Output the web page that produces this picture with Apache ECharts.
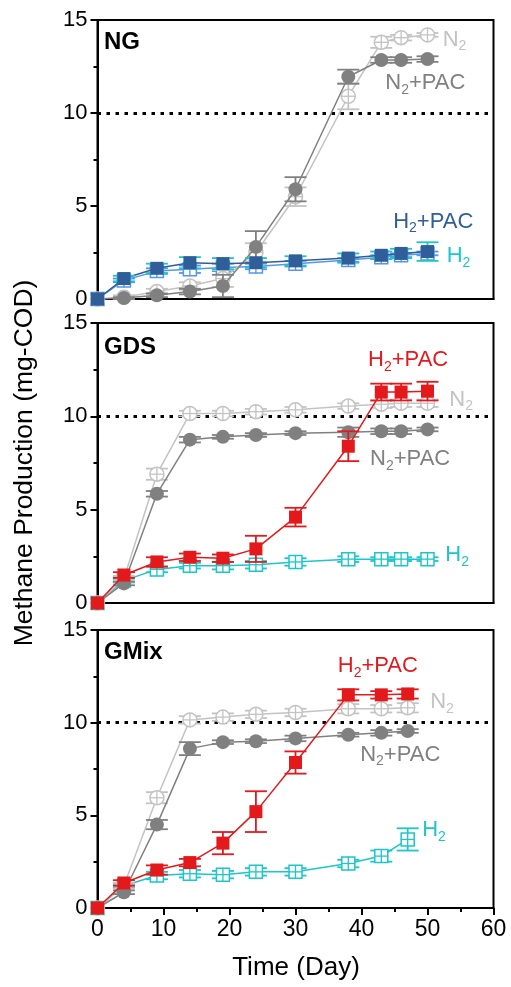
<!DOCTYPE html>
<html>
<head>
<meta charset="utf-8">
<script src="https://cdn.jsdelivr.net/npm/echarts@6/dist/echarts.min.js"></script>
<style>
  html, body { margin: 0; padding: 0; background: #fff; }
  #chart { width: 511px; height: 987px; }
</style>
</head>
<body>
<div id="chart"></div>
<script>
// Sampling days
const daysLong = [0, 4, 9, 14, 19, 24, 30, 38, 43, 46, 50];
const daysMix = [0, 4, 9, 14, 19, 24, 30, 38, 43, 47];

// Axis ranges / ticks
const yTicks = [0, 5, 10, 15];
const xTicks = [0, 10, 20, 30, 40, 50, 60];
const refLevel = 10;

// NG panel (mg-COD) with standard deviations
const ngN2 = [0, 0.1, 0.4, 0.7, 1.1, 2.5, 5.5, 10.9, 13.8, 14.05, 14.2];
const ngN2Err = [0, 0.1, 0.15, 0.2, 0.45, 0.5, 0.5, 0.7, 0.3, 0.15, 0.1];
const ngN2Pac = [0, 0.05, 0.2, 0.4, 0.7, 2.8, 5.9, 11.95, 12.85, 12.85, 12.9];
const ngN2PacErr = [0, 0.05, 0.1, 0.15, 0.6, 0.85, 0.65, 0.38, 0.15, 0.15, 0.15];
const ngH2 = [0, 1.0, 1.5, 1.6, 1.7, 1.75, 1.9, 2.1, 2.25, 2.35, 2.45];
const ngH2Err = [0, 0.1, 0.15, 0.2, 0.2, 0.15, 0.15, 0.1, 0.1, 0.1, 0.1];
const ngH2Pac = [0, 1.1, 1.65, 1.95, 1.9, 1.95, 2.05, 2.2, 2.35, 2.45, 2.55];
const ngH2PacErr = [0, 0.15, 0.25, 0.3, 0.3, 0.25, 0.25, 0.25, 0.2, 0.25, 0.5];

// GDS panel
const gdsN2 = [0, 1.3, 6.9, 10.15, 10.15, 10.25, 10.35, 10.55, 10.65, 10.7, 10.7];
const gdsN2Err = [0, 0.15, 0.3, 0.15, 0.15, 0.15, 0.15, 0.15, 0.2, 0.2, 0.2];
const gdsN2Pac = [0, 1.05, 5.85, 8.75, 8.9, 9.0, 9.1, 9.15, 9.2, 9.2, 9.3];
const gdsN2PacErr = [0, 0.1, 0.15, 0.15, 0.1, 0.1, 0.1, 0.25, 0.15, 0.15, 0.1];
const gdsH2 = [0, 1.2, 1.8, 2.0, 2.0, 2.05, 2.2, 2.35, 2.35, 2.35, 2.35];
const gdsH2Err = [0, 0.1, 0.15, 0.15, 0.2, 0.2, 0.2, 0.15, 0.1, 0.1, 0.1];
const gdsH2Pac = [0, 1.5, 2.2, 2.45, 2.4, 2.9, 4.6, 8.4, 11.3, 11.3, 11.35];
const gdsH2PacErr = [0, 0.15, 0.25, 0.2, 0.2, 0.7, 0.5, 0.8, 0.45, 0.45, 0.5];

// GMix panel
const mixN2 = [0, 1.2, 5.95, 10.15, 10.3, 10.45, 10.55, 10.75, 10.75, 10.8];
const mixN2Err = [0, 0.15, 0.3, 0.2, 0.2, 0.2, 0.2, 0.25, 0.2, 0.25];
const mixN2Pac = [0, 0.85, 4.5, 8.6, 8.95, 9.0, 9.15, 9.35, 9.45, 9.55];
const mixN2PacErr = [0, 0.1, 0.25, 0.35, 0.1, 0.1, 0.15, 0.1, 0.15, 0.1];
const mixH2 = [0, 1.2, 1.75, 1.85, 1.8, 1.95, 1.95, 2.4, 2.8, 3.7];
const mixH2Err = [0, 0.1, 0.2, 0.2, 0.2, 0.2, 0.2, 0.2, 0.3, 0.6];
const mixH2Pac = [0, 1.35, 2.05, 2.45, 3.5, 5.2, 7.85, 11.5, 11.5, 11.55];
const mixH2PacErr = [0, 0.15, 0.25, 0.2, 0.6, 1.1, 0.6, 0.3, 0.2, 0.25];

// Panel names and in-plot series labels: [x, y, main, sub, suffix]
const panelNames = ['NG', 'GDS', 'GMix'];
const ngLabels = [[52.3, 13.95, 'N', '2', ''], [43.6, 11.6, 'N', '2', '+PAC'], [44.8, 4.17, 'H', '2', '+PAC'], [52.9, 2.29, 'H', '2', '']];
const gdsLabels = [[41.0, 13.0, 'H', '2', '+PAC'], [53.3, 10.9, 'N', '2', ''], [41.3, 7.7, 'N', '2', '+PAC'], [52.7, 2.58, 'H', '2', '']];
const mixLabels = [[36.4, 13.06, 'H', '2', '+PAC'], [50.4, 11.13, 'N', '2', ''], [39.8, 8.28, 'N', '2', '+PAC'], [49.2, 4.19, 'H', '2', '']];

const FONT = "'Liberation Sans', Arial, sans-serif";
const MAIN_FONT = '22px ' + FONT;
const SUB_FONT = '14px ' + FONT;
const C = {
  lightGray: '#c3c3c3',
  gray: '#808080',
  red: '#e3191c',
  cyan: '#1cc6ca',
  navy: '#2f5e98',
  sky: '#5298e8'
};

const grids = [
  { left: 97.5, top: 20, width: 396, height: 279 },
  { left: 97.5, top: 323, width: 396, height: 280 },
  { left: 97.5, top: 630, width: 396, height: 278 }
];

const measureCtx = document.createElement('canvas').getContext('2d');
function textWidth(text, font) {
  measureCtx.font = font;
  return measureCtx.measureText(text).width;
}

function zip(xs, ys, es) {
  return xs.map((x, i) => [x, ys[i], es ? es[i] : 0]);
}

// Marker + error bar drawing
function markerRenderer(shape, open, color, errColor) {
  return function (params, api) {
    const x = api.value(0), y = api.value(1), e = api.value(2);
    const c = api.coord([x, y]);
    const kids = [];
    if (e > 0) {
      const lo = api.coord([x, y - e]);
      const hi = api.coord([x, y + e]);
      const st = { stroke: errColor, lineWidth: 1.8 };
      kids.push({ type: 'line', shape: { x1: c[0], y1: lo[1], x2: c[0], y2: hi[1] }, style: st });
      kids.push({ type: 'line', shape: { x1: c[0] - 11, y1: lo[1], x2: c[0] + 11, y2: lo[1] }, style: st });
      kids.push({ type: 'line', shape: { x1: c[0] - 11, y1: hi[1], x2: c[0] + 11, y2: hi[1] }, style: st });
    }
    const r = 7;
    const st = open ? { fill: '#fff', stroke: color, lineWidth: 1.5 } : { fill: color };
    if (shape === 'circle') {
      kids.push({ type: 'circle', shape: { cx: c[0], cy: c[1], r: r }, style: st });
    } else {
      kids.push({ type: 'rect', shape: { x: c[0] - 6.5, y: c[1] - 6.5, width: 13, height: 13 }, style: st });
    }
    if (open) {
      const ls = { stroke: color, lineWidth: 1.3 };
      kids.push({ type: 'line', shape: { x1: c[0] - r, y1: c[1], x2: c[0] + r, y2: c[1] }, style: ls });
      kids.push({ type: 'line', shape: { x1: c[0], y1: c[1] - r, x2: c[0], y2: c[1] + r }, style: ls });
    }
    return { type: 'group', children: kids };
  };
}

// Series name with a lowered subscript, anchored at its left-middle point
function labelRenderer(labels, colors) {
  return function (params, api) {
    const i = params.dataIndex;
    const l = labels[i];
    const col = colors[i];
    const p = api.coord([l[0], l[1]]);
    const w1 = textWidth(l[2], MAIN_FONT);
    const w2 = textWidth(l[3], SUB_FONT);
    const kids = [
      { type: 'text', x: p[0], y: p[1], style: { text: l[2], font: MAIN_FONT, fill: col, verticalAlign: 'middle', align: 'left' } },
      { type: 'text', x: p[0] + w1, y: p[1] + 7, style: { text: l[3], font: SUB_FONT, fill: col, verticalAlign: 'middle', align: 'left' } }
    ];
    if (l[4]) {
      kids.push({ type: 'text', x: p[0] + w1 + w2, y: p[1], style: { text: l[4], font: MAIN_FONT, fill: col, verticalAlign: 'middle', align: 'left' } });
    }
    return { type: 'group', children: kids };
  };
}

const series = [];

function addSeries(idx, days, vals, errs, shape, open, color, errColor, z) {
  series.push({
    type: 'line', xAxisIndex: idx, yAxisIndex: idx,
    data: zip(days, vals), showSymbol: false, symbol: 'none',
    lineStyle: { color: color, width: 1.5 }, z: z, silent: true, animation: false
  });
  series.push({
    type: 'custom', xAxisIndex: idx, yAxisIndex: idx,
    data: zip(days, vals, errs),
    renderItem: markerRenderer(shape, open, color, errColor),
    z: z + 1, silent: true, animation: false
  });
}

function addRefLine(idx) {
  series.push({
    type: 'line', xAxisIndex: idx, yAxisIndex: idx, data: [],
    markLine: {
      silent: true, symbol: 'none', label: { show: false }, animation: false,
      lineStyle: { color: '#000', width: 3.2, type: [3.5, 5.5] },
      data: [{ yAxis: refLevel }]
    }
  });
}

function addLabels(idx, labels, colors) {
  series.push({
    type: 'custom', xAxisIndex: idx, yAxisIndex: idx,
    data: labels.map(l => [l[0], l[1]]),
    renderItem: labelRenderer(labels, colors),
    z: 20, silent: true, animation: false
  });
}

// NG
addRefLine(0);
addSeries(0, daysLong, ngH2, ngH2Err, 'rect', true, C.sky, C.sky, 2);
addSeries(0, daysLong, ngN2, ngN2Err, 'circle', true, C.lightGray, C.lightGray, 4);
addSeries(0, daysLong, ngN2Pac, ngN2PacErr, 'circle', false, C.gray, C.gray, 6);
addSeries(0, daysLong, ngH2Pac, ngH2PacErr, 'rect', false, C.navy, C.cyan, 8);
addLabels(0, ngLabels, [C.lightGray, C.gray, C.navy, C.cyan]);

// GDS
addRefLine(1);
addSeries(1, daysLong, gdsH2, gdsH2Err, 'rect', true, C.cyan, C.cyan, 2);
addSeries(1, daysLong, gdsN2, gdsN2Err, 'circle', true, C.lightGray, C.lightGray, 4);
addSeries(1, daysLong, gdsN2Pac, gdsN2PacErr, 'circle', false, C.gray, C.gray, 6);
addSeries(1, daysLong, gdsH2Pac, gdsH2PacErr, 'rect', false, C.red, C.red, 8);
addLabels(1, gdsLabels, [C.red, C.lightGray, C.gray, C.cyan]);

// GMix
addRefLine(2);
addSeries(2, daysMix, mixH2, mixH2Err, 'rect', true, C.cyan, C.cyan, 2);
addSeries(2, daysMix, mixN2, mixN2Err, 'circle', true, C.lightGray, C.lightGray, 4);
addSeries(2, daysMix, mixN2Pac, mixN2PacErr, 'circle', false, C.gray, C.gray, 6);
addSeries(2, daysMix, mixH2Pac, mixH2PacErr, 'rect', false, C.red, C.red, 8);
addLabels(2, mixLabels, [C.red, C.lightGray, C.gray, C.cyan]);

const axisLine = { show: true, onZero: false, lineStyle: { color: '#000', width: 2 } };

const xAxes = grids.map((g, i) => {
  const bottom = i === 2;
  return {
    type: 'value', gridIndex: i, min: xTicks[0], max: xTicks[xTicks.length - 1],
    interval: xTicks[1] - xTicks[0],
    axisLine: axisLine,
    axisTick: { show: bottom, inside: false, length: 7, lineStyle: { color: '#000', width: 2 } },
    minorTick: { show: bottom, splitNumber: 2, length: 4, lineStyle: { color: '#000', width: 2 } },
    axisLabel: { show: bottom, fontSize: 23, fontFamily: FONT, color: '#000', margin: 10 },
    splitLine: { show: false }
  };
});

const yAxes = grids.map((g, i) => ({
  type: 'value', gridIndex: i, min: yTicks[0], max: yTicks[yTicks.length - 1],
  interval: yTicks[1] - yTicks[0],
  axisLine: axisLine,
  axisTick: { show: true, inside: false, length: 7, lineStyle: { color: '#000', width: 2 } },
  minorTick: { show: true, splitNumber: 2, length: 4, lineStyle: { color: '#000', width: 2 } },
  axisLabel: { fontSize: 22, fontFamily: FONT, color: '#000', margin: 10 },
  splitLine: { show: false }
}));

const panelTitleY = [42, 347, 652];

const option = {
  animation: false,
  backgroundColor: '#fff',
  grid: grids.map(g => Object.assign({ show: true, borderColor: '#000', borderWidth: 2, backgroundColor: 'transparent' }, g)),
  xAxis: xAxes,
  yAxis: yAxes,
  series: series,
  graphic: [
    ...panelNames.map((n, i) => ({
      type: 'text', x: 104, y: panelTitleY[i], z: 30,
      style: { text: n, font: "bold 24px " + FONT, fill: '#000', verticalAlign: 'middle' }
    })),
    {
      type: 'text', x: 25, y: 463, rotation: Math.PI / 2, z: 30,
      style: { text: 'Methane Production (mg-COD)', font: "26.5px " + FONT, fill: '#000', align: 'center', verticalAlign: 'middle' }
    },
    {
      type: 'text', x: 296, y: 968, z: 30,
      style: { text: 'Time (Day)', font: "26px " + FONT, fill: '#000', align: 'center', verticalAlign: 'middle' }
    }
  ]
};

const chart = echarts.init(document.getElementById('chart'), null, { renderer: 'canvas' });
chart.setOption(option);
</script>
</body>
</html>
